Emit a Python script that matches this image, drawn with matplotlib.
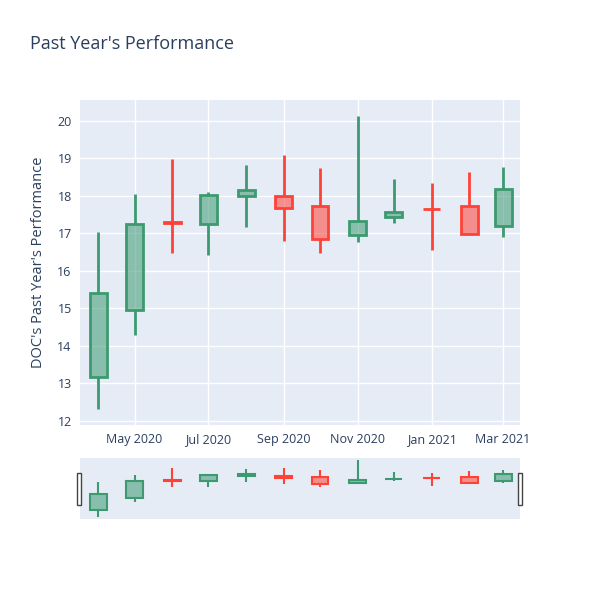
import pandas as pd
import matplotlib.pyplot as plt
import matplotlib.dates as mdates
from matplotlib.patches import Rectangle

plt.rcParams['font.family'] = ['Open Sans', 'DejaVu Sans']

# monthly OHLC for DOC
dates = pd.to_datetime(['2020-04-01', '2020-05-01', '2020-06-01', '2020-07-01',
                        '2020-08-01', '2020-09-01', '2020-10-01', '2020-11-01',
                        '2020-12-01', '2021-01-01', '2021-02-01', '2021-03-01'])
opens = [13.18, 14.96, 17.31, 17.25, 17.99, 17.99, 17.72, 16.95, 17.45, 17.66, 17.72, 17.20]
highs = [17.03, 18.04, 18.98, 18.10, 18.82, 19.09, 18.74, 20.13, 18.45, 18.34, 18.64, 18.78]
lows = [12.31, 14.29, 16.47, 16.42, 17.16, 16.79, 16.47, 16.77, 17.29, 16.56, 16.99, 16.91]
closes = [15.40, 17.25, 17.29, 18.03, 18.15, 17.67, 16.85, 17.34, 17.57, 17.64, 16.99, 18.19]

tick_dates = pd.to_datetime(['2020-05-01', '2020-07-01', '2020-09-01',
                             '2020-11-01', '2021-01-01', '2021-03-01'])

UP = '#3D9970'
DOWN = '#FF4136'
BG = '#E5ECF6'
TXT = '#2a3f5f'

x_lo = pd.Timestamp('2020-03-17')
x_hi = pd.Timestamp('2021-03-15')


def draw_candles(ax, lw):
    for d, o, h, l, c in zip(dates, opens, highs, lows, closes):
        col = UP if c >= o else DOWN
        top, bot = max(o, c), min(o, c)
        ax.vlines(d, top, h, color=col, lw=lw, zorder=3)
        ax.vlines(d, l, bot, color=col, lw=lw, zorder=3)
        ax.bar(d, max(top - bot, 0.001), bottom=bot, width=14,
               facecolor=col, alpha=0.55, edgecolor='none', zorder=3)
        ax.bar(d, max(top - bot, 0.001), bottom=bot, width=14,
               facecolor='none', edgecolor=col, lw=lw, zorder=4)


fig = plt.figure(figsize=(6, 6), dpi=100)
fig.text(30 / 600, 1 - 44 / 600, "Past Year's Performance", fontsize=13,
         color=TXT, va='center', ha='left')

ax = fig.add_axes([80 / 600, 1 - 425 / 600, 440 / 600, 325 / 600])
ax.set_facecolor(BG)
draw_candles(ax, 2)
ax.set_xlim(x_lo, x_hi)
ax.set_ylim(11.89, 20.56)
ax.set_yticks(range(12, 21))
ax.set_xticks(tick_dates)
ax.xaxis.set_major_formatter(mdates.DateFormatter('%b %Y'))
ax.grid(True, color='white', lw=1)
ax.set_axisbelow(True)
for s in ax.spines.values():
    s.set_visible(False)
ax.tick_params(length=0, labelsize=9, colors=TXT, pad=6)
ax.set_ylabel("DOC's Past Year's Performance", fontsize=10.5, color=TXT, labelpad=8)

# range slider
sl = fig.add_axes([80 / 600, 1 - 519 / 600, 440 / 600, 61 / 600])
sl.set_facecolor(BG)
draw_candles(sl, 1.5)
sl.set_xlim(x_lo, x_hi)
sl.set_ylim(12.0, 20.4)
sl.set_xticks([])
sl.set_yticks([])
for s in sl.spines.values():
    s.set_visible(False)

for hx in (77, 518):
    fig.patches.append(Rectangle((hx / 600, 1 - 505 / 600), 4 / 600, 32 / 600,
                                 transform=fig.transFigure, facecolor='white',
                                 edgecolor='#444444', lw=1))

fig.savefig('out.png')
